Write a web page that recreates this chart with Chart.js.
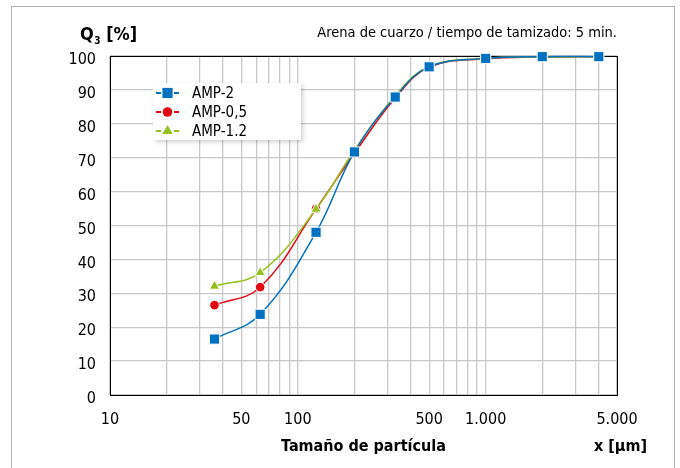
<!DOCTYPE html>
<html>
<head>
<meta charset="utf-8">
<script src="https://cdn.jsdelivr.net/npm/chart.js@4.4.1/dist/chart.umd.min.js"></script>
<style>
html, body { margin: 0; padding: 0; background: #fff; }
#wrap { width: 680px; height: 468px; position: relative; }
</style>
</head>
<body>
<div id="wrap"><canvas id="psd" width="680" height="468"></canvas></div>
<script>
// particle sizes in µm and cumulative passing Q3 in %
var sizes = [36, 63, 125, 200, 330, 500, 1000, 2000, 4000];
var amp2 = [16.5, 23.8, 48, 71.7, 87.9, 96.8, 99.3, 99.8, 99.8];
var amp05 = [26.5, 31.8, 54.9, 71.3, 87.6, 96.7, 99.2, 99.7, 99.8];
var amp12 = [32.1, 36.1, 54.8, 72.2, 88.3, 96.9, 99.3, 99.7, 99.8];
var seriesNames = ['AMP-2', 'AMP-0,5', 'AMP-1.2'];
var xTickValues = [10, 50, 100, 500, 1000, 5000];
var xTickLabels = ['10', '50', '100', '500', '1.000', '5.000'];

var FONT = "'DejaVu Sans Condensed', 'DejaVu Sans', sans-serif";
var BLUE = '#0070c0', RED = '#e30613', GREEN = '#95c11f';

function pts(ys) {
    return sizes.map(function(x, i) { return { x: x, y: ys[i] }; });
}

function markerPath(ctx, style, x, y, r) {
    ctx.beginPath();
    if (style === 'rect') {
        var s = r * Math.SQRT1_2;
        ctx.rect(x - s, y - s, 2 * s, 2 * s);
    } else if (style === 'triangle') {
        ctx.moveTo(x, y - r);
        ctx.lineTo(x + r * 0.866, y + r * 0.5);
        ctx.lineTo(x - r * 0.866, y + r * 0.5);
        ctx.closePath();
    } else {
        ctx.arc(x, y, r, 0, Math.PI * 2);
    }
}

var extras = {
    id: 'extras',
    beforeDatasetsDraw: function(chart) {
        var a = chart.chartArea, ctx = chart.ctx;
        ctx.save();
        ctx.strokeStyle = '#000';
        ctx.lineWidth = 1;
        ctx.strokeRect(Math.round(a.left) + 0.5, Math.round(a.top) + 0.5,
            Math.round(a.right - a.left), Math.round(a.bottom - a.top));
        ctx.restore();
    },
    afterDraw: function(chart) {
        var ctx = chart.ctx;
        ctx.save();
        // outer frame
        ctx.strokeStyle = '#b4b4b4';
        ctx.lineWidth = 1;
        ctx.strokeRect(11.5, 6.5, 663, 470);

        // y axis title Q3 [%]
        ctx.fillStyle = '#000';
        ctx.textBaseline = 'alphabetic';
        ctx.textAlign = 'left';
        ctx.font = 'bold 18px ' + FONT;
        ctx.fillText('Q', 80, 40);
        var qx = 80 + ctx.measureText('Q').width;
        ctx.font = 'bold 10px ' + FONT;
        ctx.fillText('3', qx + 0.5, 44);
        var sx = qx + 0.5 + ctx.measureText('3').width;
        ctx.font = 'bold 18px ' + FONT;
        ctx.fillText(' [%]', sx, 40);

        // subtitle
        ctx.font = '14.5px ' + FONT;
        ctx.textAlign = 'right';
        ctx.fillText('Arena de cuarzo / tiempo de tamizado: 5 min.', 617, 37);

        // x axis titles
        var a = chart.chartArea;
        ctx.font = 'bold 16px ' + FONT;
        ctx.textAlign = 'center';
        ctx.fillText('Tamaño de partícula', (a.left + a.right) / 2, 451);
        ctx.textAlign = 'right';
        ctx.fillText('x [µm]', 647, 451);

        // legend box
        ctx.save();
        ctx.shadowColor = 'rgba(0,0,0,0.18)';
        ctx.shadowBlur = 4;
        ctx.shadowOffsetX = 2;
        ctx.shadowOffsetY = 2;
        ctx.fillStyle = '#fff';
        ctx.fillRect(153, 83, 148, 57);
        ctx.restore();

        var ds = chart.data.datasets;
        ctx.font = '15px ' + FONT;
        ctx.textAlign = 'left';
        ctx.textBaseline = 'middle';
        for (var i = 0; i < ds.length; i++) {
            var ly = 93 + i * 19;
            ctx.strokeStyle = ds[i].borderColor;
            ctx.lineWidth = 2;
            ctx.beginPath();
            ctx.moveTo(156, ly);
            ctx.lineTo(161, ly);
            ctx.moveTo(174, ly);
            ctx.lineTo(179, ly);
            ctx.stroke();
            markerPath(ctx, ds[i].pointStyle, 167.5, ly, ds[i].pointRadius);
            ctx.fillStyle = ds[i].backgroundColor;
            ctx.fill();
            ctx.fillStyle = '#000';
            ctx.fillText(ds[i].label, 192, ly + 1);
        }
        ctx.restore();
    }
};

function series(label, ys, color, style, radius, order) {
    return {
        label: label,
        data: pts(ys),
        order: order,
        borderColor: color,
        backgroundColor: color,
        borderWidth: 1.5,
        pointStyle: style,
        pointRadius: radius,
        pointBorderColor: '#fff',
        pointBorderWidth: 1,
        pointBackgroundColor: color,
        tension: 0.4,
        clip: false
    };
}

new Chart(document.getElementById('psd').getContext('2d'), {
    type: 'line',
    data: {
        datasets: [
            series(seriesNames[0], amp2, BLUE, 'rect', 7.2, 0),
            series(seriesNames[1], amp05, RED, 'circle', 4.8, 2),
            series(seriesNames[2], amp12, GREEN, 'triangle', 6, 1)
        ]
    },
    options: {
        responsive: false,
        animation: false,
        devicePixelRatio: 1,
        layout: { padding: { top: 56, right: 63, left: 0, bottom: 0 } },
        plugins: {
            legend: { display: false },
            tooltip: { enabled: false }
        },
        scales: {
            x: {
                type: 'logarithmic',
                min: 10,
                max: 5000,
                afterFit: function(scale) { scale.height = 73; },
                afterBuildTicks: function(scale) {
                    var t = [];
                    for (var d = 10; d <= 1000; d *= 10) {
                        for (var m = 1; m <= 9; m++) {
                            if (d * m <= 5000) t.push({ value: d * m });
                        }
                    }
                    scale.ticks = t;
                },
                grid: { color: '#c8c8c8', lineWidth: 1.3, drawTicks: false },
                border: { display: false },
                ticks: {
                    autoSkip: false,
                    maxRotation: 0,
                    padding: 15,
                    color: '#000',
                    font: { family: FONT, size: 16 },
                    callback: function(value) {
                        var i = xTickValues.indexOf(value);
                        return i >= 0 ? xTickLabels[i] : '';
                    }
                }
            },
            y: {
                min: 0,
                max: 100,
                afterFit: function(scale) { scale.width = 110; },
                grid: { color: '#c8c8c8', lineWidth: 1.3, drawTicks: false },
                border: { display: false },
                ticks: {
                    stepSize: 10,
                    padding: 14,
                    labelOffset: 4,
                    color: '#000',
                    font: { family: FONT, size: 16 }
                }
            }
        }
    },
    plugins: [extras]
});
</script>
</body>
</html>
